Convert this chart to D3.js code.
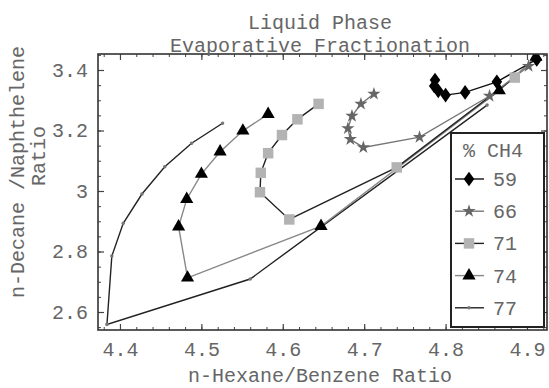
<!DOCTYPE html>
<html><head><meta charset="utf-8">
<script src="https://cdn.jsdelivr.net/npm/d3@7"></script>
<style>body{margin:0;background:#fff}svg{display:block}text{font-family:"Courier New","Liberation Mono","DejaVu Sans Mono",monospace;fill:#666}</style>
</head><body><svg id="c" width="549" height="388"></svg>
<script>
// Data
const s59x = [4.787, 4.786, 4.791, 4.800, 4.824, 4.863, 4.912];
const s59y = [3.367, 3.347, 3.331, 3.317, 3.326, 3.361, 3.435];
const s66x = [4.712, 4.696, 4.685, 4.680, 4.683, 4.699, 4.768, 4.854, 4.902];
const s66y = [3.321, 3.288, 3.248, 3.207, 3.171, 3.144, 3.178, 3.314, 3.413];
const s71x = [4.644, 4.618, 4.599, 4.582, 4.573, 4.572, 4.608, 4.740, 4.885];
const s71y = [3.288, 3.237, 3.185, 3.125, 3.060, 2.996, 2.906, 3.078, 3.375];
const s74x = [4.582, 4.551, 4.523, 4.500, 4.482, 4.472, 4.483, 4.647, 4.866, 4.911];
const s74y = [3.254, 3.199, 3.130, 3.056, 2.973, 2.882, 2.713, 2.884, 3.332, 3.443];
const s77x = [4.526, 4.488, 4.455, 4.427, 4.404, 4.390, 4.384, 4.560, 4.851];
const s77y = [3.224, 3.158, 3.080, 2.990, 2.893, 2.785, 2.559, 2.709, 3.284];
const seriesNames = ["59", "66", "71", "74", "77"];
const xTicks = [4.4, 4.5, 4.6, 4.7, 4.8, 4.9];
const yTicks = [2.6, 2.8, 3.0, 3.2, 3.4];
const yTickLabels = ["2.6", "2.8", "3", "3.2", "3.4"];
const titleLines = ["Liquid Phase", "Evaporative Fractionation"];
const xTitle = "n-Hexane/Benzene Ratio";
const yTitle = ["n-Decane /Naphthelene", "Ratio"];
const legendTitle = "% CH4";

const FONT = '"Courier New","Liberation Mono","DejaVu Sans Mono",monospace';
const svg = d3.select("#c");
const W = 549, H = 388;
const m = {l: 98, r: 2, t: 54, b: 58};
const x = d3.scaleLinear().domain([4.373, 4.9246]).range([m.l, W - m.r]);
const y = d3.scaleLinear().domain([2.5405, 3.4529]).range([H - m.b, m.t]);

const styles = [
  {line: "#111", sym: d3.symbolDiamond, size: 62, fill: "#000", sx: 1.25},
  {line: "#777", sym: d3.symbolStar, size: 55, fill: "#666", sx: 1},
  {line: "#222", sym: d3.symbolSquare, size: 110, fill: "#b3b3b3", sx: 1},
  {line: "#888", sym: d3.symbolTriangle, size: 75, fill: "#000", sx: 1},
  {line: "#222", sym: d3.symbolCircle, size: 10, fill: "#777", sx: 1}
];
const data = [[s59x, s59y], [s66x, s66y], [s71x, s71y], [s74x, s74y], [s77x, s77y]]
  .map(([xs, ys]) => xs.map((v, i) => [v, ys[i]]));

svg.append("clipPath").attr("id", "clip").append("rect")
  .attr("x", m.l).attr("y", m.t).attr("width", W - m.l - m.r).attr("height", H - m.t - m.b);

const g = svg.append("g").attr("clip-path", "url(#clip)");
const line = d3.line().x(d => x(d[0])).y(d => y(d[1]));
[4, 3, 2, 1, 0].forEach(i => {
  g.append("path").datum(data[i]).attr("d", line)
    .attr("fill", "none").attr("stroke", styles[i].line).attr("stroke-width", 1.4);
});
[4, 3, 2, 1, 0].forEach(i => {
  g.selectAll(null).data(data[i]).enter().append("path")
    .attr("d", d3.symbol().type(styles[i].sym).size(styles[i].size))
    .attr("transform", d => `translate(${x(d[0])},${y(d[1])}) scale(${styles[i].sx},1)`)
    .attr("fill", styles[i].fill);
});

// minor ticks on all four sides (inward)
const minorX = d3.range(4.38, 4.921, 0.02);
const minorY = d3.range(2.55, 3.451, 0.05);
const axes = [
  [d3.axisBottom(x), `translate(0,${H - m.b})`],
  [d3.axisTop(x), `translate(0,${m.t})`],
  [d3.axisLeft(y), `translate(${m.l},0)`],
  [d3.axisRight(y), `translate(${W - m.r},0)`]
];
axes.forEach(([a, tr], k) => {
  const isX = k < 2;
  const gm = svg.append("g").attr("transform", tr)
    .call(a.tickValues(isX ? minorX : minorY).tickSize(-3).tickFormat(""));
  gm.select(".domain").remove();
  gm.selectAll("line").attr("stroke", "#444").attr("stroke-width", 1);
});
const xa = svg.append("g").attr("transform", `translate(0,${H - m.b})`)
  .call(d3.axisBottom(x).tickValues(xTicks).tickSize(-6).tickPadding(12).tickFormat(d3.format(".1f")));
const xa2 = svg.append("g").attr("transform", `translate(0,${m.t})`)
  .call(d3.axisTop(x).tickValues(xTicks).tickSize(-6).tickFormat(""));
const ya = svg.append("g").attr("transform", `translate(${m.l},0)`)
  .call(d3.axisLeft(y).tickValues(yTicks).tickSize(-6).tickPadding(10).tickFormat((d, i) => yTickLabels[i]));
const ya2 = svg.append("g").attr("transform", `translate(${W - m.r},0)`)
  .call(d3.axisRight(y).tickValues(yTicks).tickSize(-6).tickFormat(""));
[xa, xa2, ya, ya2].forEach(a => {
  a.attr("font-family", FONT);
  a.select(".domain").remove();
  a.selectAll("line").attr("stroke", "#444").attr("stroke-width", 1.2);
  a.selectAll("text").attr("font-size", 20).attr("fill", "#666").style("font-family", FONT);
});
svg.append("rect").attr("x", m.l).attr("y", m.t).attr("width", W - m.l - m.r).attr("height", H - m.t - m.b)
  .attr("fill", "none").attr("stroke", "#333").attr("stroke-width", 1.6);

// titles
svg.append("text").attr("x", 320).attr("y", 29).attr("text-anchor", "middle").attr("font-size", 20).text(titleLines[0]);
svg.append("text").attr("x", 320).attr("y", 52).attr("text-anchor", "middle").attr("font-size", 20).text(titleLines[1]);
svg.append("text").attr("x", 320).attr("y", 382).attr("text-anchor", "middle").attr("font-size", 20).text(xTitle);
svg.append("text").attr("transform", "translate(24,172) rotate(-90)").attr("text-anchor", "middle").attr("font-size", 20).text(yTitle[0]);
svg.append("text").attr("transform", "translate(45,156) rotate(-90)").attr("text-anchor", "middle").attr("font-size", 20).text(yTitle[1]);

// legend
const lg = svg.append("g");
lg.append("rect").attr("x", 451).attr("y", 133).attr("width", 93).attr("height", 194)
  .attr("fill", "#fff").attr("stroke", "#222").attr("stroke-width", 2);
lg.append("text").attr("x", 463).attr("y", 157).attr("font-size", 20).text(legendTitle);
seriesNames.forEach((n, i) => {
  const yy = 179 + i * 32.2;
  lg.append("line").attr("x1", 455).attr("x2", 484).attr("y1", yy).attr("y2", yy)
    .attr("stroke", styles[i].line).attr("stroke-width", 1.4);
  lg.append("path").attr("d", d3.symbol().type(styles[i].sym).size(styles[i].size))
    .attr("transform", `translate(469,${yy}) scale(${styles[i].sx},1)`)
    .attr("fill", styles[i].fill);
  lg.append("text").attr("x", 493).attr("y", yy + 7).attr("font-size", 20).text(n);
});
</script></body></html>
